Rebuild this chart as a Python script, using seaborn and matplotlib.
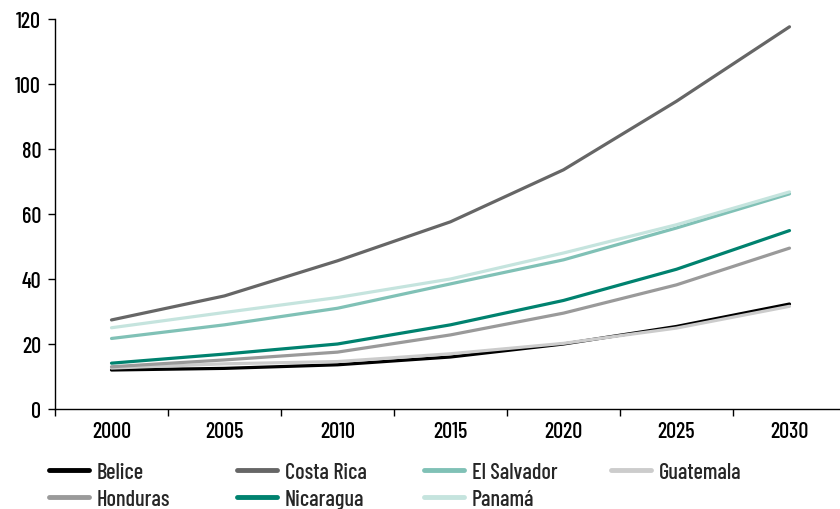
import pandas as pd
import seaborn as sns
import matplotlib.pyplot as plt
from matplotlib import font_manager

years = ['2000', '2005', '2010', '2015', '2020', '2025', '2030']
belice = [12.0, 12.5, 13.6, 16.0, 20.0, 25.4, 32.3]
costa_rica = [27.4, 34.8, 45.6, 57.6, 73.6, 94.7, 117.6]
el_salvador = [21.7, 25.9, 31.0, 38.5, 45.9, 55.7, 66.2]
guatemala = [12.6, 13.9, 14.6, 17.0, 20.2, 24.9, 31.6]
honduras = [13.0, 15.1, 17.5, 22.8, 29.5, 38.2, 49.5]
nicaragua = [14.1, 16.9, 20.0, 25.9, 33.4, 43.0, 54.9]
panama = [25.0, 29.7, 34.3, 40.0, 48.0, 56.7, 66.8]

countries = ['Belice', 'Costa Rica', 'El Salvador', 'Guatemala', 'Honduras', 'Nicaragua', 'Panamá']
series = [belice, costa_rica, el_salvador, guatemala, honduras, nicaragua, panama]
colors = ['#000000', '#666666', '#80c1b6', '#cccccc', '#9a9a9a', '#00826f', '#c5e4de']

df = pd.DataFrame({
    'year': years * len(countries),
    'value': [v for s in series for v in s],
    'country': [c for c in countries for _ in years],
})

sns.set_style("ticks")
names = {f.name for f in font_manager.fontManager.ttflist}
plt.rcParams['font.family'] = ['Barlow Condensed' if 'Barlow Condensed' in names else 'DejaVu Sans', 'DejaVu Sans']
plt.rcParams['font.weight'] = 'medium'
fs = 16

fig = plt.figure(figsize=(8.4, 5.1), dpi=100)
ax = fig.add_axes([55 / 840, 1 - 410 / 510, 791 / 840, 390 / 510])

sns.lineplot(data=df, x='year', y='value', hue='country', hue_order=countries,
             palette=colors, linewidth=2.3, sort=False, legend=False, ax=ax)

ax.set_xlim(-0.5, 6.5)
ax.set_ylim(0, 120)
ax.set_yticks([0, 20, 40, 60, 80, 100, 120])
ax.set_xticks(range(len(years)))
ax.set_xticklabels(years)
ax.set_xticks([i - 0.5 for i in range(len(years) + 1)], minor=True)
ax.tick_params(axis='x', which='major', length=0, pad=9, labelsize=fs, labelcolor='black')
ax.tick_params(axis='x', which='minor', length=5, width=1, color='black')
ax.tick_params(axis='y', length=5, width=1, color='black', labelsize=fs, labelcolor='black', pad=5)
for s in ['top', 'right']:
    ax.spines[s].set_visible(False)
for s in ['left', 'bottom']:
    ax.spines[s].set_color('black')
    ax.spines[s].set_linewidth(1)
ax.set_xlabel('')
ax.set_ylabel('')

# legend: two rows, four fixed-width columns
handles = ax.get_lines()
col_x = [49, 237, 424, 611]
for col in range(4):
    idx = [i for i in (col, col + 4) if i < len(countries)]
    leg = fig.legend([handles[i] for i in idx], [countries[i] for i in idx],
                     loc='upper left', bbox_to_anchor=(col_x[col] / 840, 1 - 463 / 510),
                     frameon=False, fontsize=fs, handlelength=1.8, handletextpad=0.36,
                     labelspacing=0.3, borderaxespad=0, borderpad=0)
    for line in leg.get_lines():
        line.set_linewidth(3.5)
        line.set_solid_capstyle('round')

fig.savefig('out.png', dpi=100)
